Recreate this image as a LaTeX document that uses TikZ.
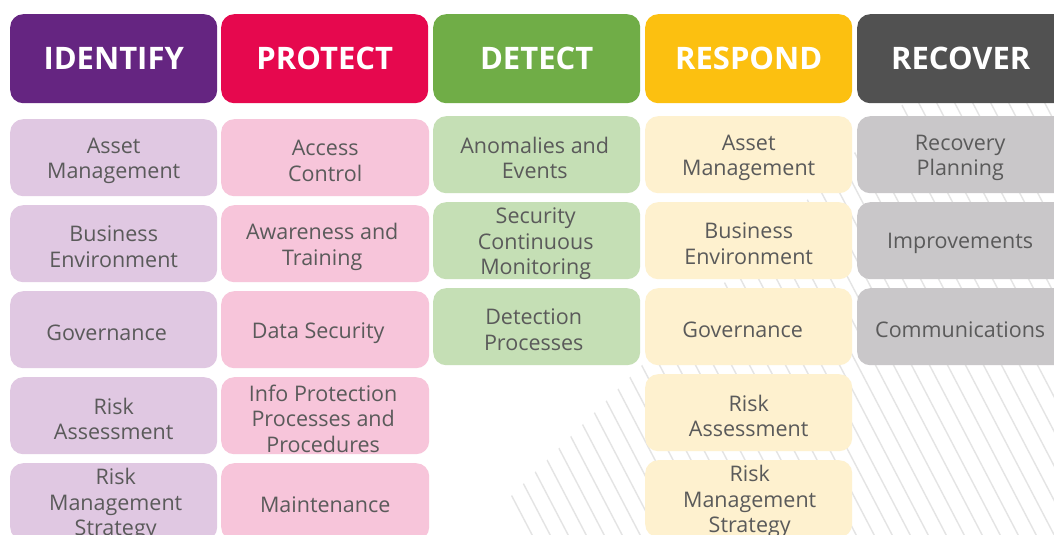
\documentclass[tikz,border=0pt]{standalone}
\usepackage{fontspec}
\setmainfont{Open Sans}
\definecolor{txt}{HTML}{5A5A5A}
\definecolor{hatchc}{HTML}{E4E4E4}
\definecolor{cI}{HTML}{652581}
\definecolor{cP}{HTML}{E6084E}
\definecolor{cD}{HTML}{70AD47}
\definecolor{cR}{HTML}{FCC010}
\definecolor{cC}{HTML}{515151}
\definecolor{lI}{HTML}{E0C8E2}
\definecolor{lP}{HTML}{F7C5DA}
\definecolor{lD}{HTML}{C5DFB5}
\definecolor{lR}{HTML}{FEF1CF}
\definecolor{lC}{HTML}{C9C7C9}
\newcommand\itm[6]{%
  \node[item, fill=#2, minimum width=#4] (#1) at (#3) {};
  \node[itemtxt] (#1t) at ([xshift=#5, yshift=-3pt]#1.center) {#6};}
\begin{document}
\begin{tikzpicture}[x=1pt,y=-1pt,
  hdr/.style={rounded corners=13pt, minimum width=207pt, minimum height=89pt,
    anchor=north west, text=white, inner sep=0pt,
    font=\bfseries\fontsize{31}{36}\selectfont},
  item/.style={rounded corners=13pt, minimum height=77pt,
    anchor=north west, inner sep=0pt},
  itemtxt/.style={text=txt, align=center, inner sep=0pt,
    font=\fontsize{21.5}{25.5}\selectfont},
  hatch/.style={draw=hatchc, line width=1.4pt}
]
\useasboundingbox (0,0) rectangle (1054,535);
\clip (0,0) rectangle (1054,535);
\fill[white] (0,0) rectangle (1054,535);
% hatched background
\begin{scope}
  \clip (472,535) -- (907,100) -- (1054,100) -- (1054,535) -- cycle;
  \foreach \k in {0,...,45} {
    \draw[hatch] (300+\k*18,90) -- ++(240,460);
  }
\end{scope}
% headers
\node[hdr, fill=cI] (hI) at (10,14) {IDENTIFY};
\node[hdr, fill=cP] (hP) at (221,14) {PROTECT};
\node[hdr, fill=cD] (hD) at (433,14) {DETECT};
\node[hdr, fill=cR] (hR) at (645,14) {RESPOND};
\node[hdr, fill=cC, minimum width=212pt] (hC) at (857,14) {\hspace*{-5pt}RECOVER};
% identify
\itm{i1}{lI}{10,119}{207pt}{0pt}{Asset\\Management}
\itm{i2}{lI}{10,205}{207pt}{0pt}{Business\\Environment}
\itm{i3}{lI}{10,291}{207pt}{-7pt}{Governance}
\itm{i4}{lI}{10,377}{207pt}{0pt}{Risk\\Assessment}
\itm{i5}{lI}{10,463}{207pt}{2pt}{Risk\\Management\\Strategy}
% protect
\itm{p1}{lP}{221,119}{208pt}{0pt}{Access\\Control}
\itm{p2}{lP}{221,205}{208pt}{-3pt}{Awareness and\\Training}
\itm{p3}{lP}{221,291}{208pt}{-7pt}{Data Security}
\itm{p4}{lP}{221,377}{208pt}{-2pt}{Info Protection\\Processes and\\Procedures}
\itm{p5}{lP}{221,463}{208pt}{0pt}{Maintenance}
% detect
\itm{d1}{lD}{433,116}{207pt}{-2pt}{Anomalies and\\Events}
\itm{d2}{lD}{433,202}{207pt}{-1pt}{Security\\Continuous\\Monitoring}
\itm{d3}{lD}{433,288}{207pt}{-3pt}{Detection\\Processes}
% respond
\itm{r1}{lR}{645,116}{207pt}{0pt}{Asset\\Management}
\itm{r2}{lR}{645,202}{207pt}{0pt}{Business\\Environment}
\itm{r3}{lR}{645,288}{207pt}{-6pt}{Governance}
\itm{r4}{lR}{645,374}{207pt}{0pt}{Risk\\Assessment}
\itm{r5}{lR}{645,460}{207pt}{1pt}{Risk\\Management\\Strategy}
% recover
\itm{c1}{lC}{857,116}{212pt}{-3pt}{Recovery\\Planning}
\itm{c2}{lC}{857,202}{212pt}{-3pt}{Improvements}
\itm{c3}{lC}{857,288}{212pt}{-3pt}{Communications}
\end{tikzpicture}
\end{document}
